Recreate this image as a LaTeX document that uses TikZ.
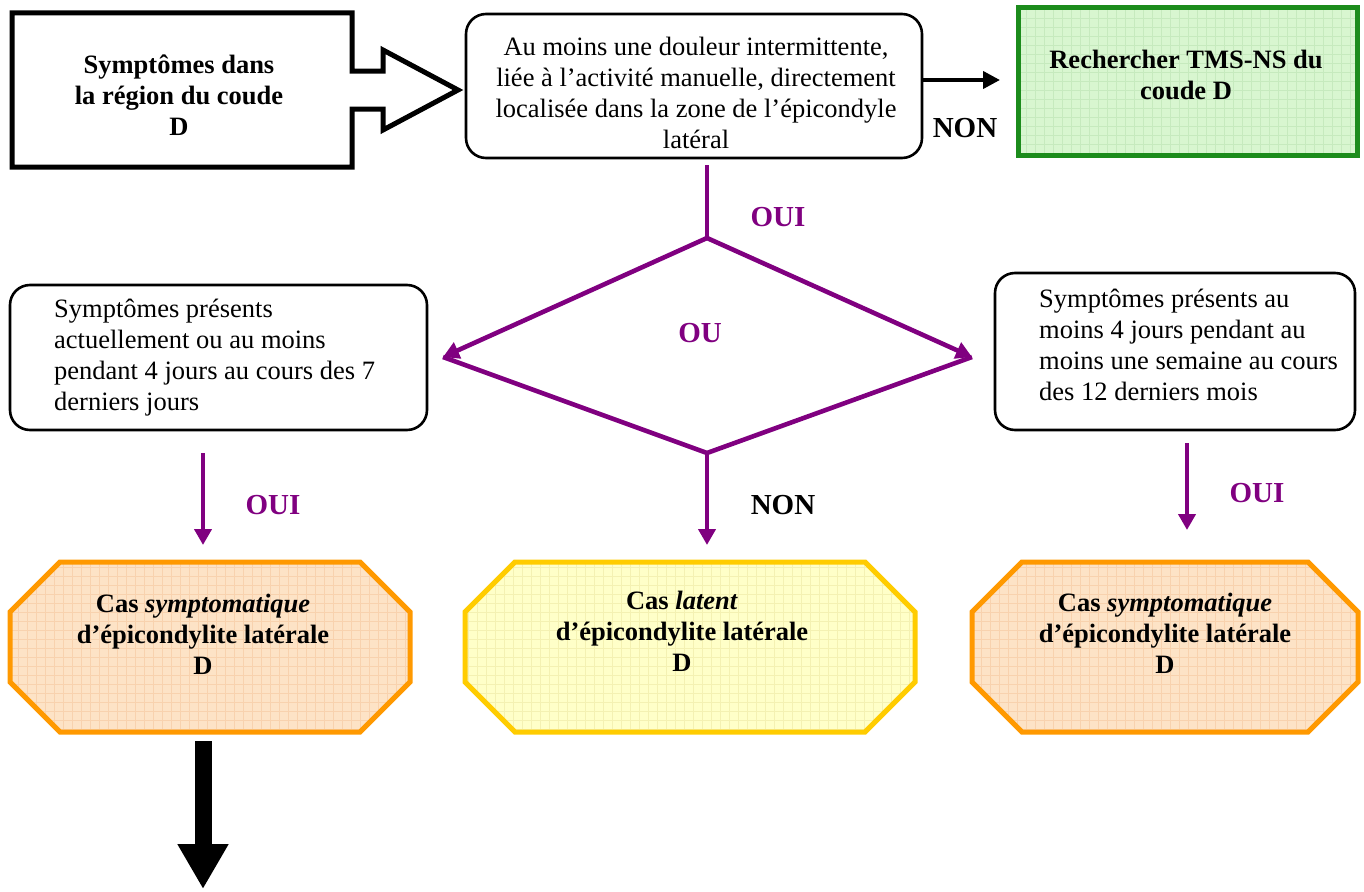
\documentclass[tikz,border=0pt]{standalone}
\usepackage{fontspec}
\setmainfont{Liberation Serif}
\usetikzlibrary{arrows.meta,calc}

\definecolor{flowpurple}{HTML}{800080}
\definecolor{okgreen}{HTML}{1C8C1C}
\definecolor{okfill}{HTML}{D8F6D0}
\definecolor{okgrid}{HTML}{C6EABE}
\definecolor{symborder}{HTML}{FF9900}
\definecolor{symfill}{HTML}{FDE3C6}
\definecolor{symgrid}{HTML}{F8D2AE}
\definecolor{latborder}{HTML}{FFCC00}
\definecolor{latfill}{HTML}{FFFFC8}
\definecolor{latgrid}{HTML}{F4F1B2}

% octagonal outline around a node: #1 node name, #2 path options
\newcommand\chamferoutline[2]{%
  \path[#2] ($(#1.north west)+(50,0)$) -- ($(#1.north east)+(-50,0)$)
    -- ($(#1.north east)+(0,50)$) -- ($(#1.south east)+(0,-50)$)
    -- ($(#1.south east)+(-50,0)$) -- ($(#1.south west)+(50,0)$)
    -- ($(#1.south west)+(0,-50)$) -- ($(#1.north west)+(0,50)$) -- cycle;}

\tikzset{
  frame/.style={inner sep=0pt, outer sep=0pt},
  rbox/.style={frame, draw, line width=2.6pt, rounded corners=20pt},
  txt/.style={inner sep=0pt, align=center},
  ltxt/.style={inner sep=0pt, align=left, anchor=west},
  btxt/.style={txt, font=\fontsize{26.5}{31}\selectfont\bfseries},
  gridfill/.style={path picture={\draw[#1, line width=0.5pt, step=9pt]
      (path picture bounding box.south west) grid (path picture bounding box.north east);}},
  symcase/.style={draw=symborder, fill=symfill, line width=5pt, gridfill=symgrid},
  latcase/.style={draw=latborder, fill=latfill, line width=5pt, gridfill=latgrid},
  pline/.style={draw=flowpurple, line width=4.6pt},
  parrow/.style={pline, -{Triangle[length=16pt,width=17pt]}},
  karrow/.style={draw=black, line width=4pt, -{Triangle[length=17pt,width=17pt]}},
  bigarrow/.style={draw=black, line width=17pt, -{Triangle[length=45pt,width=48pt]}},
  lbl/.style={inner sep=0pt, font=\fontsize{29}{31}\selectfont\bfseries},
  plbl/.style={lbl, text=flowpurple},
}

\begin{document}
\begin{tikzpicture}[x=1pt, y=-1pt, font=\fontsize{26.5}{31}\selectfont]
\useasboundingbox (0,0) rectangle (1364,891);

% starting block with its built-in block arrow
\node[frame, minimum width=340pt, minimum height=154pt] (start) at (182,90) {};
\draw[line width=5pt, miter limit=10]
  (start.north west) -- (start.north east) -- ($(start.east)+(0,-19)$) -- ++(31,0)
  -- ++(0,-21) -- ($(start.east)+(106,0)$) -- ($(start.east)+(31,40)$) -- ++(0,-21)
  -- ($(start.east)+(0,19)$) -- (start.south east) -- (start.south west) -- cycle;
\node[btxt] (starttext) at (179,95) {Symptômes dans\\la région du coude\\D};

% main question
\node[rbox, minimum width=456pt, minimum height=144pt] (question) at (694,86) {};
\node[txt] (questiontext) at (696,93) {Au moins une douleur intermittente,\\liée à l’activité manuelle, directement\\localisée dans la zone de l’épicondyle\\latéral};

% negative outcome
\node[frame, minimum width=339pt, minimum height=147pt] (other) at (1187.5,81.5) {};
\path[draw=okgreen, fill=okfill, line width=5pt, gridfill=okgrid]
  (other.north west) rectangle (other.south east);
\node[btxt] (othertext) at (1186,75) {Rechercher TMS-NS du\\coude D};

% time conditions
\node[rbox, minimum width=417pt, minimum height=145pt] (recent) at (218.5,357.5) {};
\node[ltxt] (recenttext) at (54,358) {Symptômes présents\\actuellement ou au moins\\pendant 4 jours au cours des 7\\derniers jours};
\node[rbox, minimum width=360pt, minimum height=157pt] (year) at (1175,351.5) {};
\node[ltxt] (yeartext) at (1039,345) {Symptômes présents au\\moins 4 jours pendant au\\moins une semaine au cours\\des 12 derniers mois};

% outcome cases
\node[frame, minimum width=400pt, minimum height=170pt] (symL) at (210,647) {};
\chamferoutline{symL}{symcase}
\node[btxt] (symLtext) at (203,634) {Cas \textit{symptomatique}\\d’épicondylite latérale\\D};

\node[frame, minimum width=450pt, minimum height=170pt] (latent) at (690,647) {};
\chamferoutline{latent}{latcase}
\node[btxt] (latenttext) at (682,631) {Cas \textit{latent}\\d’épicondylite latérale\\D};

\node[frame, minimum width=386pt, minimum height=170pt] (symR) at (1165,647) {};
\chamferoutline{symR}{symcase}
\node[btxt] (symRtext) at (1165,633) {Cas \textit{symptomatique}\\d’épicondylite latérale\\D};

% branching diamond
\coordinate (dtop) at (707,238);
\coordinate (dleft) at (443,357);
\coordinate (dright) at (972,357);
\coordinate (dbot) at (707,453);
\coordinate (exit) at (203,889);

% connectors
\draw[karrow, shorten >=18pt] (question.east |- 0,80) -- (other.west |- 0,80);
\draw[pline, shorten <=7pt] (dtop |- question.south) -- (dtop);
\draw[parrow] (dtop) -- (dleft);
\draw[parrow] (dtop) -- (dright);
\draw[pline, line join=miter] (dleft) -- (dbot) -- (dright);
\draw[parrow, shorten >=17pt] (dbot) -- (dbot |- latent.north);
\draw[parrow, shorten <=23pt, shorten >=17pt] (symLtext |- recent.south) -- (symLtext |- symL.north);
\draw[parrow, shorten <=13pt, shorten >=32pt] ($(year.south)+(12,0)$) -- ($(symR.north)+(22,0)$);
\draw[bigarrow, shorten <=9pt] (exit |- symL.south) -- (exit);

% branch labels
\node[lbl] (nonright) at (965,128) {NON};
\node[plbl] (ouitop) at (778,217) {OUI};
\node[plbl] (ou) at (700,333) {OU};
\node[lbl] (nondown) at (783,505) {NON};
\node[plbl] (ouileft) at (273,505) {OUI};
\node[plbl] (ouiright) at (1257,493) {OUI};
\end{tikzpicture}
\end{document}
